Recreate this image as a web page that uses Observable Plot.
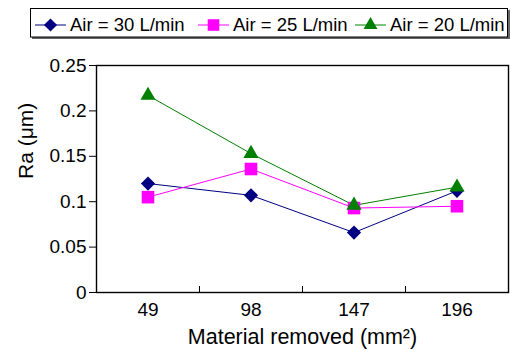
<!DOCTYPE html>
<html>
<head>
<meta charset="utf-8">
<script src="https://cdn.jsdelivr.net/npm/d3@7"></script>
<script src="https://cdn.jsdelivr.net/npm/@observablehq/plot@0.6"></script>
<style>
  html, body { margin: 0; padding: 0; background: #fff; }
  #wrap { width: 510px; height: 350px; position: relative; font-family: "Liberation Sans", Arial, sans-serif; }
  #legend, #chart { display: block; }
  svg { display: block; }
</style>
</head>
<body>
<div id="wrap"><div id="legend"></div><div id="chart"></div></div>
<script>
const categories = [49, 98, 147, 196];
const air30 = [0.12, 0.107, 0.066, 0.112];
const air25 = [0.105, 0.136, 0.093, 0.095];
const air20 = [0.217, 0.153, 0.096, 0.116];
const seriesNames = ["Air = 30 L/min", "Air = 25 L/min", "Air = 20 L/min"];
const seriesColors = ["#000080", "#FF00FF", "#008000"];
const seriesSymbols = ["diamond2", "square", "triangle"];
const yTicks = [0, 0.05, 0.1, 0.15, 0.2, 0.25];
const xTitle = "Material removed (mm²)";
const yTitle = "Ra (μm)";

const seriesValues = [air30, air25, air20];
const symbolR = [6.4, 7.1, 5.6];

const step = categories[1] - categories[0];
const xDomain = [categories[0] - step / 2, categories[categories.length - 1] + step / 2];
const boundaries = categories.slice(1).map((c, i) => (c + categories[i]) / 2);

const rows = seriesNames.flatMap((s, si) =>
  categories.map((c, i) => ({series: s, x: c, y: seriesValues[si][i]})));

const font = "'Liberation Sans', Arial, sans-serif";

const marks = [
  Plot.axisY(yTicks, {tickSize: 7, tickPadding: 3, fontSize: 19, label: null,
    tickFormat: d => String(+d.toFixed(2))}),
  Plot.axisX(categories, {tickSize: 0, tickPadding: 10, fontSize: 19, label: null,
    tickFormat: d => String(d)}),
  Plot.axisX(boundaries, {tickSize: -6, label: null, tickFormat: () => ""}),
  Plot.text([yTitle], {frameAnchor: "left", dx: -70, rotate: -90, fontSize: 21, fill: "black"}),
  Plot.text([xTitle], {frameAnchor: "bottom", lineAnchor: "middle", dy: 45, fontSize: 21.5, fill: "black"})
];
seriesNames.forEach((s, si) => {
  const d = rows.filter(r => r.series === s);
  marks.push(Plot.line(d, {x: "x", y: "y", stroke: seriesColors[si], strokeWidth: 1}));
});
seriesNames.forEach((s, si) => {
  const d = rows.filter(r => r.series === s);
  marks.push(Plot.dot(d, {x: "x", y: "y", symbol: () => seriesSymbols[si], r: symbolR[si],
    fill: seriesColors[si], stroke: "none"}));
});
marks.push(Plot.frame({stroke: "black", strokeWidth: 1.4}));

const chart = Plot.plot({
  width: 510,
  height: 310,
  marginTop: 25,
  marginBottom: 58,
  marginLeft: 96,
  marginRight: 2,
  style: {fontFamily: font, color: "black", background: "white", overflow: "visible"},
  x: {type: "linear", domain: xDomain},
  y: {domain: [0, 0.25]},
  marks
});
document.getElementById("chart").appendChild(chart);

// Legend (above the plot)
const lg = d3.select("#legend").append("svg").attr("width", 510).attr("height", 40)
  .style("font-family", font);
lg.append("rect").attr("x", 32).attr("y", 10).attr("width", 478).attr("height", 29).attr("fill", "#666");
lg.append("rect").attr("x", 30.5).attr("y", 8.5).attr("width", 477).attr("height", 28.5)
  .attr("fill", "white").attr("stroke", "black").attr("stroke-width", 1);
const itemX = [35, 198, 355];
const d3Symbols = {diamond2: d3.symbolDiamond2, square: d3.symbolSquare, triangle: d3.symbolTriangle};
seriesNames.forEach((s, si) => {
  const g = lg.append("g").attr("transform", `translate(${itemX[si]},25)`);
  g.append("line").attr("x1", 0).attr("x2", 31).attr("y1", 0).attr("y2", 0)
    .attr("stroke", seriesColors[si]).attr("stroke-width", 1);
  g.append("path").attr("transform", "translate(15.5,0)")
    .attr("d", d3.symbol(d3Symbols[seriesSymbols[si]], Math.PI * symbolR[si] * symbolR[si] * 0.85)())
    .attr("fill", seriesColors[si]);
  g.append("text").attr("x", 35).attr("y", 0).attr("dy", "0.35em")
    .attr("font-size", 18.5).attr("fill", "black").text(s);
});
</script>
</body>
</html>
